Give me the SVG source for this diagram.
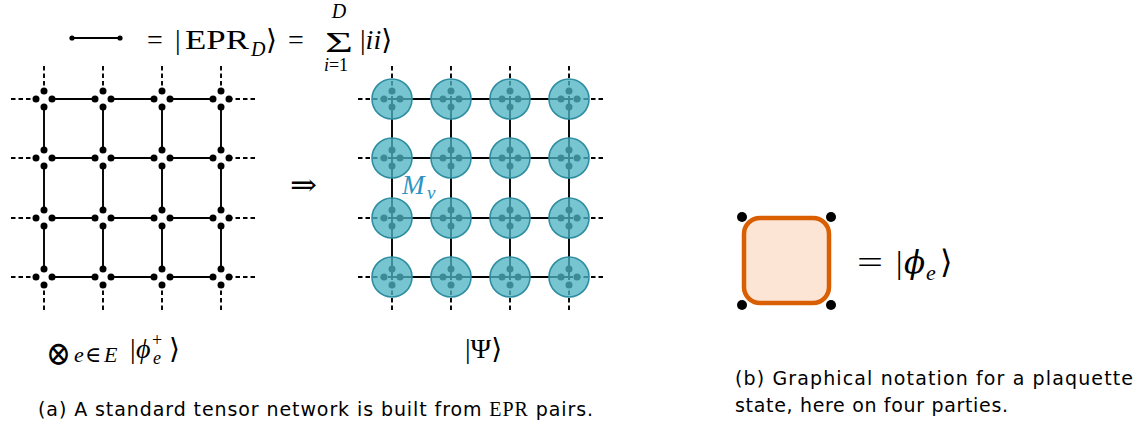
<svg xmlns="http://www.w3.org/2000/svg" width="1144" height="432" viewBox="0 0 1144 432">
<style>
.m{font-family:"Liberation Serif","DejaVu Serif",serif;fill:#000}
.i{font-style:italic}
.s{font-family:"DejaVu Sans","Liberation Sans",sans-serif;font-size:19px;fill:#000}
.ln{stroke:#000;stroke-width:1.9;fill:none}
.ds{stroke:#000;stroke-width:1.9;fill:none;stroke-dasharray:4.5 3}
.d{fill:#000}
.c{fill:#50b3c5;fill-opacity:0.77;stroke:#2e8da0;stroke-width:1.6}
</style>
<rect width="1144" height="432" fill="#fff"/>

<!-- legend -->
<g id="legend">
<line class="ln" x1="72" y1="38" x2="120" y2="38"/>
<circle class="d" cx="72" cy="38" r="2.6"/>
<circle class="d" cx="120" cy="38" r="2.6"/>
<text class="m" font-size="28" y="49"><tspan x="147">=</tspan><tspan x="175">|</tspan><tspan x="185" textLength="64" lengthAdjust="spacingAndGlyphs">EPR</tspan></text>
<text class="m i" font-size="20" x="251" y="56">D</text>
<text class="m" font-size="28" x="266" y="49">⟩</text>
<text class="m" font-size="28" x="288" y="49">=</text>
<text class="m" font-size="30" x="325" y="52" textLength="28" lengthAdjust="spacingAndGlyphs">Σ</text>
<text class="m i" font-size="20" x="339" y="18" text-anchor="middle">D</text>
<text class="m" font-size="18" x="336" y="71" text-anchor="middle"><tspan font-style="italic">i</tspan>=1</text>
<text class="m" font-size="28" x="360" y="49">|<tspan font-style="italic">ii</tspan>⟩</text>
</g>

<!-- connectors -->
<g id="connectors">
<path class="ln" d="M52 99H95M111 99H154M170 99H213M52 158H95M111 158H154M170 158H213M52 218H95M111 218H154M170 218H213M52 277H95M111 277H154M170 277H213"/>
<path class="ln" d="M44 107V150M44 166V210M44 226V269M103 107V150M103 166V210M103 226V269M162 107V150M162 166V210M162 226V269M221 107V150M221 166V210M221 226V269"/>
<path class="ds" d="M11 99H33M11 158H33M11 218H33M11 277H33M255 99H232M255 158H232M255 218H232M255 277H232"/>
<path class="ds" d="M44 66V88M103 66V88M162 66V88M221 66V88M44 310V288M103 310V288M162 310V288M221 310V288"/>
<path class="ln" d="M392 99H569M392 158H569M392 218H569M392 277H569M392 99V277M451 99V277M510 99V277M569 99V277"/>
<path class="ds" d="M358 99H392M358 158H392M358 218H392M358 277H392M603 99H569M603 158H569M603 218H569M603 277H569"/>
<path class="ds" d="M392 66V99M451 66V99M510 66V99M569 66V99M392 310V277M451 310V277M510 310V277M569 310V277"/>
</g>

<g id="left-vertices">
<g id="lv11"><circle class="d" cx="36" cy="99" r="3.5"/><circle class="d" cx="52" cy="99" r="3.5"/><circle class="d" cx="44" cy="91" r="3.5"/><circle class="d" cx="44" cy="107" r="3.5"/></g>
<g id="lv12"><circle class="d" cx="95" cy="99" r="3.5"/><circle class="d" cx="111" cy="99" r="3.5"/><circle class="d" cx="103" cy="91" r="3.5"/><circle class="d" cx="103" cy="107" r="3.5"/></g>
<g id="lv13"><circle class="d" cx="154" cy="99" r="3.5"/><circle class="d" cx="170" cy="99" r="3.5"/><circle class="d" cx="162" cy="91" r="3.5"/><circle class="d" cx="162" cy="107" r="3.5"/></g>
<g id="lv14"><circle class="d" cx="213" cy="99" r="3.5"/><circle class="d" cx="229" cy="99" r="3.5"/><circle class="d" cx="221" cy="91" r="3.5"/><circle class="d" cx="221" cy="107" r="3.5"/></g>
<g id="lv21"><circle class="d" cx="36" cy="158" r="3.5"/><circle class="d" cx="52" cy="158" r="3.5"/><circle class="d" cx="44" cy="150" r="3.5"/><circle class="d" cx="44" cy="166" r="3.5"/></g>
<g id="lv22"><circle class="d" cx="95" cy="158" r="3.5"/><circle class="d" cx="111" cy="158" r="3.5"/><circle class="d" cx="103" cy="150" r="3.5"/><circle class="d" cx="103" cy="166" r="3.5"/></g>
<g id="lv23"><circle class="d" cx="154" cy="158" r="3.5"/><circle class="d" cx="170" cy="158" r="3.5"/><circle class="d" cx="162" cy="150" r="3.5"/><circle class="d" cx="162" cy="166" r="3.5"/></g>
<g id="lv24"><circle class="d" cx="213" cy="158" r="3.5"/><circle class="d" cx="229" cy="158" r="3.5"/><circle class="d" cx="221" cy="150" r="3.5"/><circle class="d" cx="221" cy="166" r="3.5"/></g>
<g id="lv31"><circle class="d" cx="36" cy="218" r="3.5"/><circle class="d" cx="52" cy="218" r="3.5"/><circle class="d" cx="44" cy="210" r="3.5"/><circle class="d" cx="44" cy="226" r="3.5"/></g>
<g id="lv32"><circle class="d" cx="95" cy="218" r="3.5"/><circle class="d" cx="111" cy="218" r="3.5"/><circle class="d" cx="103" cy="210" r="3.5"/><circle class="d" cx="103" cy="226" r="3.5"/></g>
<g id="lv33"><circle class="d" cx="154" cy="218" r="3.5"/><circle class="d" cx="170" cy="218" r="3.5"/><circle class="d" cx="162" cy="210" r="3.5"/><circle class="d" cx="162" cy="226" r="3.5"/></g>
<g id="lv34"><circle class="d" cx="213" cy="218" r="3.5"/><circle class="d" cx="229" cy="218" r="3.5"/><circle class="d" cx="221" cy="210" r="3.5"/><circle class="d" cx="221" cy="226" r="3.5"/></g>
<g id="lv41"><circle class="d" cx="36" cy="277" r="3.5"/><circle class="d" cx="52" cy="277" r="3.5"/><circle class="d" cx="44" cy="269" r="3.5"/><circle class="d" cx="44" cy="285" r="3.5"/></g>
<g id="lv42"><circle class="d" cx="95" cy="277" r="3.5"/><circle class="d" cx="111" cy="277" r="3.5"/><circle class="d" cx="103" cy="269" r="3.5"/><circle class="d" cx="103" cy="285" r="3.5"/></g>
<g id="lv43"><circle class="d" cx="154" cy="277" r="3.5"/><circle class="d" cx="170" cy="277" r="3.5"/><circle class="d" cx="162" cy="269" r="3.5"/><circle class="d" cx="162" cy="285" r="3.5"/></g>
<g id="lv44"><circle class="d" cx="213" cy="277" r="3.5"/><circle class="d" cx="229" cy="277" r="3.5"/><circle class="d" cx="221" cy="269" r="3.5"/><circle class="d" cx="221" cy="285" r="3.5"/></g>
</g>

<g id="right-tensors">
<g id="rv11"><circle class="d" cx="384" cy="99" r="3.5"/><circle class="d" cx="400" cy="99" r="3.5"/><circle class="d" cx="392" cy="91" r="3.5"/><circle class="d" cx="392" cy="107" r="3.5"/><circle class="c" cx="392" cy="99" r="20"/></g>
<g id="rv12"><circle class="d" cx="443" cy="99" r="3.5"/><circle class="d" cx="459" cy="99" r="3.5"/><circle class="d" cx="451" cy="91" r="3.5"/><circle class="d" cx="451" cy="107" r="3.5"/><circle class="c" cx="451" cy="99" r="20"/></g>
<g id="rv13"><circle class="d" cx="502" cy="99" r="3.5"/><circle class="d" cx="518" cy="99" r="3.5"/><circle class="d" cx="510" cy="91" r="3.5"/><circle class="d" cx="510" cy="107" r="3.5"/><circle class="c" cx="510" cy="99" r="20"/></g>
<g id="rv14"><circle class="d" cx="561" cy="99" r="3.5"/><circle class="d" cx="577" cy="99" r="3.5"/><circle class="d" cx="569" cy="91" r="3.5"/><circle class="d" cx="569" cy="107" r="3.5"/><circle class="c" cx="569" cy="99" r="20"/></g>
<g id="rv21"><circle class="d" cx="384" cy="158" r="3.5"/><circle class="d" cx="400" cy="158" r="3.5"/><circle class="d" cx="392" cy="150" r="3.5"/><circle class="d" cx="392" cy="166" r="3.5"/><circle class="c" cx="392" cy="158" r="20"/></g>
<g id="rv22"><circle class="d" cx="443" cy="158" r="3.5"/><circle class="d" cx="459" cy="158" r="3.5"/><circle class="d" cx="451" cy="150" r="3.5"/><circle class="d" cx="451" cy="166" r="3.5"/><circle class="c" cx="451" cy="158" r="20"/></g>
<g id="rv23"><circle class="d" cx="502" cy="158" r="3.5"/><circle class="d" cx="518" cy="158" r="3.5"/><circle class="d" cx="510" cy="150" r="3.5"/><circle class="d" cx="510" cy="166" r="3.5"/><circle class="c" cx="510" cy="158" r="20"/></g>
<g id="rv24"><circle class="d" cx="561" cy="158" r="3.5"/><circle class="d" cx="577" cy="158" r="3.5"/><circle class="d" cx="569" cy="150" r="3.5"/><circle class="d" cx="569" cy="166" r="3.5"/><circle class="c" cx="569" cy="158" r="20"/></g>
<g id="rv31"><circle class="d" cx="384" cy="218" r="3.5"/><circle class="d" cx="400" cy="218" r="3.5"/><circle class="d" cx="392" cy="210" r="3.5"/><circle class="d" cx="392" cy="226" r="3.5"/><circle class="c" cx="392" cy="218" r="20"/></g>
<g id="rv32"><circle class="d" cx="443" cy="218" r="3.5"/><circle class="d" cx="459" cy="218" r="3.5"/><circle class="d" cx="451" cy="210" r="3.5"/><circle class="d" cx="451" cy="226" r="3.5"/><circle class="c" cx="451" cy="218" r="20"/></g>
<g id="rv33"><circle class="d" cx="502" cy="218" r="3.5"/><circle class="d" cx="518" cy="218" r="3.5"/><circle class="d" cx="510" cy="210" r="3.5"/><circle class="d" cx="510" cy="226" r="3.5"/><circle class="c" cx="510" cy="218" r="20"/></g>
<g id="rv34"><circle class="d" cx="561" cy="218" r="3.5"/><circle class="d" cx="577" cy="218" r="3.5"/><circle class="d" cx="569" cy="210" r="3.5"/><circle class="d" cx="569" cy="226" r="3.5"/><circle class="c" cx="569" cy="218" r="20"/></g>
<g id="rv41"><circle class="d" cx="384" cy="277" r="3.5"/><circle class="d" cx="400" cy="277" r="3.5"/><circle class="d" cx="392" cy="269" r="3.5"/><circle class="d" cx="392" cy="285" r="3.5"/><circle class="c" cx="392" cy="277" r="20"/></g>
<g id="rv42"><circle class="d" cx="443" cy="277" r="3.5"/><circle class="d" cx="459" cy="277" r="3.5"/><circle class="d" cx="451" cy="269" r="3.5"/><circle class="d" cx="451" cy="285" r="3.5"/><circle class="c" cx="451" cy="277" r="20"/></g>
<g id="rv43"><circle class="d" cx="502" cy="277" r="3.5"/><circle class="d" cx="518" cy="277" r="3.5"/><circle class="d" cx="510" cy="269" r="3.5"/><circle class="d" cx="510" cy="285" r="3.5"/><circle class="c" cx="510" cy="277" r="20"/></g>
<g id="rv44"><circle class="d" cx="561" cy="277" r="3.5"/><circle class="d" cx="577" cy="277" r="3.5"/><circle class="d" cx="569" cy="269" r="3.5"/><circle class="d" cx="569" cy="285" r="3.5"/><circle class="c" cx="569" cy="277" r="20"/></g>
<text class="m i" font-size="27" x="402" y="194" style="fill:#2b94c3">M</text>
<text class="m i" font-size="19" x="427" y="199" style="fill:#2b94c3">v</text>
</g>

<g id="arrow">
<text class="m" font-size="30" x="290" y="195" textLength="27" lengthAdjust="spacingAndGlyphs">⇒</text>
</g>

<g id="labels-a">
<text class="m" font-size="34" x="46" y="365" textLength="25" lengthAdjust="spacingAndGlyphs">⊗</text>
<text class="m i" font-size="22" x="74" y="362">e</text>
<text class="m" font-size="22" x="85" y="362">∈</text>
<text class="m i" font-size="22" x="104" y="362">E</text>
<text class="m" font-size="28" x="130" y="358">|</text>
<text class="m i" font-size="28" x="136" y="358">ϕ</text>
<text class="m" font-size="18" x="152" y="346">+</text>
<text class="m i" font-size="18" x="153" y="364">e</text>
<text class="m" font-size="28" x="169" y="358">⟩</text>
<text class="m" font-size="28" x="465" y="358">|Ψ⟩</text>
</g>

<g id="plaquette">
<rect x="744" y="218" width="85" height="85" rx="16" fill="#fde5d5" stroke="#d95f02" stroke-width="4.5"/>
<circle class="d" cx="742" cy="217" r="5"/>
<circle class="d" cx="831" cy="217" r="5"/>
<circle class="d" cx="742" cy="305" r="5"/>
<circle class="d" cx="831" cy="305" r="5"/>
<text class="m" font-size="32" x="857" y="273" textLength="26" lengthAdjust="spacingAndGlyphs">=</text>
<text class="m" font-size="32" x="896" y="273">|</text>
<text class="i" font-family="DejaVu Serif, serif" font-size="31" x="904" y="273">ϕ</text>
<text class="m i" font-size="22" x="926" y="280">e</text>
<text class="m" font-size="32" x="940" y="273">⟩</text>
</g>

<g id="captions">
<text class="s" x="38" y="416" textLength="555" lengthAdjust="spacing">(a) A standard tensor network is built from <tspan font-family="Liberation Serif, serif" font-size="20">EPR</tspan> pairs.</text>
<text class="s" x="735" y="385" textLength="398" lengthAdjust="spacing">(b) Graphical notation for a plaquette</text>
<text class="s" x="735" y="412" textLength="273" lengthAdjust="spacing">state, here on four parties.</text>
</g>
</svg>
